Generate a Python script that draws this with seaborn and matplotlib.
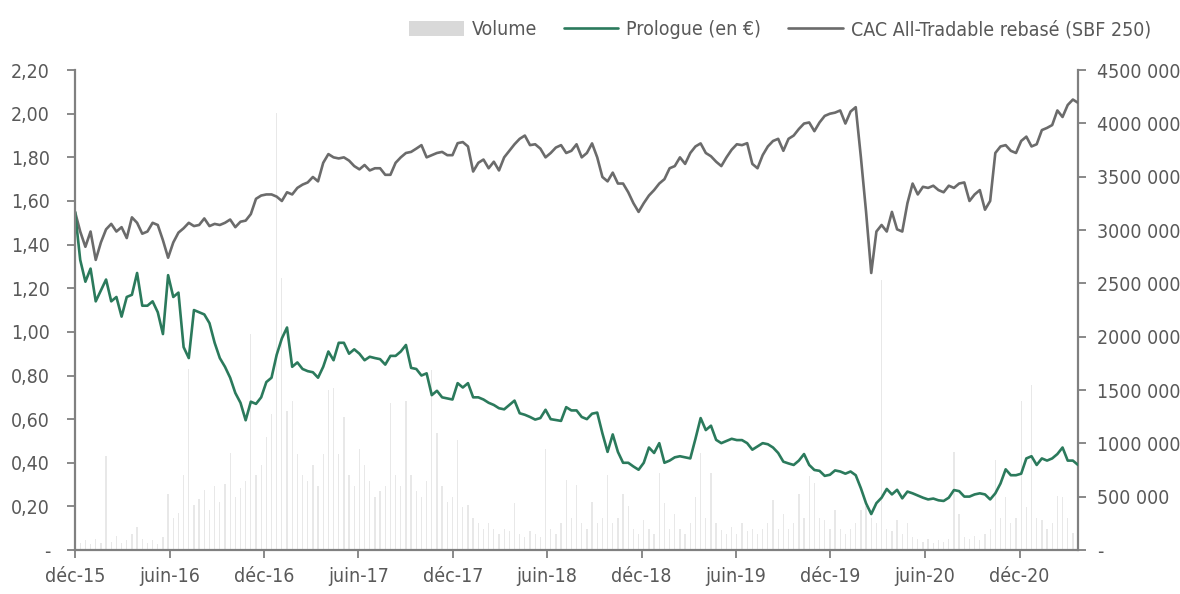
import pandas as pd
import matplotlib
matplotlib.use("Agg")
import matplotlib.pyplot as plt
import matplotlib.ticker as mticker
from matplotlib.patches import Patch
from matplotlib.lines import Line2D
import seaborn as sns

# Données (un point tous les 10 jours depuis le 01/12/2015)
START = "2015-12-01"
STEP = "10D"

prologue = [
    1.55, 1.33, 1.23, 1.29, 1.14, 1.19, 1.24, 1.14, 1.16, 1.07,
    1.16, 1.17, 1.27, 1.12, 1.12, 1.14, 1.09, 0.99, 1.26, 1.16,
    1.18, 0.93, 0.88, 1.10, 1.09, 1.08, 1.04, 0.95, 0.88, 0.84,
    0.79, 0.72, 0.675, 0.595, 0.68, 0.67, 0.70, 0.77, 0.79, 0.895,
    0.97, 1.02, 0.84, 0.86, 0.83, 0.82, 0.815, 0.79, 0.84, 0.91,
    0.87, 0.95, 0.95, 0.90, 0.92, 0.90, 0.87, 0.886, 0.88, 0.875,
    0.85, 0.89, 0.89, 0.91, 0.94, 0.835, 0.83, 0.80, 0.81, 0.71,
    0.73, 0.70, 0.695, 0.69, 0.765, 0.745, 0.765, 0.70, 0.70, 0.69,
    0.675, 0.665, 0.65, 0.645, 0.665, 0.685, 0.627, 0.62, 0.61, 0.598,
    0.605, 0.643, 0.60, 0.596, 0.592, 0.655, 0.64, 0.64, 0.61, 0.60,
    0.625, 0.63, 0.535, 0.45, 0.53, 0.45, 0.40, 0.40, 0.383, 0.368,
    0.40, 0.47, 0.445, 0.49, 0.40, 0.41, 0.425, 0.43, 0.425, 0.42,
    0.51, 0.605, 0.55, 0.57, 0.505, 0.49, 0.50, 0.51, 0.504, 0.504,
    0.49, 0.46, 0.475, 0.49, 0.485, 0.47, 0.445, 0.405, 0.397, 0.39,
    0.41, 0.44, 0.39, 0.367, 0.363, 0.34, 0.345, 0.365, 0.36, 0.35,
    0.36, 0.343, 0.283, 0.214, 0.165, 0.215, 0.24, 0.28, 0.255, 0.276,
    0.237, 0.268, 0.26, 0.25, 0.24, 0.232, 0.236, 0.228, 0.225, 0.24,
    0.275, 0.27, 0.245, 0.245, 0.255, 0.26, 0.255, 0.232, 0.26, 0.305,
    0.37, 0.343, 0.343, 0.35, 0.42, 0.43, 0.39, 0.42, 0.41, 0.42,
    0.44, 0.47, 0.41, 0.41, 0.39,
]

cac_rebase = [
    1.55, 1.46, 1.39, 1.46, 1.33, 1.41, 1.47, 1.495, 1.46, 1.48,
    1.43, 1.525, 1.50, 1.45, 1.46, 1.50, 1.49, 1.42, 1.34, 1.41,
    1.455, 1.475, 1.50, 1.485, 1.49, 1.52, 1.485, 1.495, 1.49, 1.50,
    1.515, 1.48, 1.505, 1.51, 1.54, 1.61, 1.625, 1.63, 1.63, 1.62,
    1.60, 1.64, 1.63, 1.66, 1.675, 1.685, 1.71, 1.69, 1.775, 1.815,
    1.80, 1.795, 1.80, 1.785, 1.76, 1.745, 1.765, 1.74, 1.75, 1.75,
    1.72, 1.72, 1.775, 1.80, 1.82, 1.825, 1.84, 1.856, 1.80, 1.81,
    1.82, 1.825, 1.81, 1.81, 1.865, 1.87, 1.85, 1.735, 1.775, 1.79,
    1.75, 1.78, 1.74, 1.80, 1.83, 1.86, 1.885, 1.90, 1.856, 1.86,
    1.84, 1.80, 1.82, 1.845, 1.856, 1.82, 1.83, 1.86, 1.80, 1.82,
    1.864, 1.80, 1.71, 1.69, 1.73, 1.68, 1.68, 1.64, 1.59, 1.55,
    1.59, 1.625, 1.65, 1.68, 1.70, 1.75, 1.76, 1.80, 1.77, 1.82,
    1.85, 1.864, 1.82, 1.805, 1.78, 1.76, 1.80, 1.835, 1.86, 1.856,
    1.865, 1.77, 1.75, 1.81, 1.85, 1.875, 1.885, 1.83, 1.885, 1.90,
    1.93, 1.955, 1.96, 1.92, 1.96, 1.99, 2.00, 2.005, 2.015, 1.955,
    2.01, 2.03, 1.80, 1.55, 1.27, 1.46, 1.49, 1.46, 1.55, 1.47,
    1.46, 1.59, 1.68, 1.63, 1.665, 1.66, 1.67, 1.65, 1.64, 1.67,
    1.66, 1.68, 1.685, 1.60, 1.63, 1.65, 1.56, 1.60, 1.82, 1.85,
    1.856, 1.83, 1.82, 1.875, 1.895, 1.85, 1.86, 1.925, 1.935, 1.948,
    2.015, 1.985, 2.04, 2.065, 2.05,
]

# Volume en milliers de titres
volume_k = [
    120, 70, 90, 60, 100, 70, 880, 80, 130, 70,
    90, 150, 220, 100, 70, 90, 60, 120, 530, 300,
    350, 700, 1700, 420, 480, 560, 380, 600, 450, 620,
    910, 500, 580, 650, 2030, 700, 800, 1060, 1280, 4100,
    2550, 1300, 1400, 900, 700, 650, 800, 600, 900, 1500,
    1520, 900, 1250, 700, 600, 950, 800, 650, 500, 550,
    600, 1380, 700, 600, 1400, 700, 550, 500, 650, 1690,
    1100, 600, 450, 500, 1030, 400, 420, 300, 250, 200,
    250, 200, 150, 200, 180, 440, 150, 120, 180, 150,
    120, 950, 200, 150, 250, 660, 300, 610, 250, 200,
    450, 250, 300, 700, 250, 300, 530, 410, 200, 150,
    280, 200, 150, 720, 440, 200, 340, 200, 150, 250,
    500, 910, 300, 720, 250, 190, 150, 220, 150, 250,
    180, 200, 150, 200, 250, 470, 200, 340, 200, 250,
    530, 300, 690, 625, 300, 280, 200, 375, 200, 150,
    200, 250, 375, 410, 300, 250, 2530, 200, 180, 280,
    150, 250, 120, 100, 80, 100, 70, 90, 80, 100,
    920, 340, 120, 100, 130, 90, 150, 200, 840, 300,
    500, 250, 300, 1400, 400, 1550, 300, 280, 200, 250,
    510, 500, 300, 160, 120,
]

MOIS = {6: "juin", 12: "déc"}
LEFT_TICKS = [0, 0.2, 0.4, 0.6, 0.8, 1.0, 1.2, 1.4, 1.6, 1.8, 2.0, 2.2]
RIGHT_TICKS = [0, 500000, 1000000, 1500000, 2000000, 2500000,
               3000000, 3500000, 4000000, 4500000]

GREEN = "#2b7a5c"
GREY_LINE = "#6b6b6b"
AXIS_GREY = "#808080"
TEXT_GREY = "#595959"
FS = 14


def fmt_volume(v, pos):
    if v == 0:
        return "-"
    v = int(v)
    return f"{v // 1000} 000"


def fmt_prix(v, pos):
    if abs(v) < 1e-9:
        return "-"
    return f"{v:.2f}".replace(".", ",")


dates = pd.date_range(START, periods=len(prologue), freq=STEP)
df = pd.DataFrame({
    "date": dates,
    "prologue": prologue,
    "cac": cac_rebase,
    "volume": [v * 1000 for v in volume_k],
})

sns.set_theme(style="white")
plt.rcParams["font.family"] = ["DejaVu Sans", "Liberation Sans"]
plt.rcParams["font.stretch"] = "condensed"

fig = plt.figure(figsize=(11.8, 5.94), dpi=100)
ax = fig.add_axes([0.0636, 0.074, 0.85, 0.808])
ax2 = ax.twinx()

# volume (axe de droite), derrière les courbes
ax2.bar(df["date"], df["volume"], width=2.5, color="#dcdcdc", alpha=0.65, linewidth=0)
ax2.set_ylim(0, 4500000)
ax2.set_yticks(RIGHT_TICKS)
ax2.yaxis.set_major_formatter(mticker.FuncFormatter(fmt_volume))

ax.set_zorder(ax2.get_zorder() + 1)
ax.patch.set_visible(False)

sns.lineplot(data=df, x="date", y="cac", ax=ax, color=GREY_LINE, linewidth=1.9)
sns.lineplot(data=df, x="date", y="prologue", ax=ax, color=GREEN, linewidth=1.9)

ax.set_ylim(0, 2.2)
ax.set_yticks(LEFT_TICKS)
ax.yaxis.set_major_formatter(mticker.FuncFormatter(fmt_prix))
ax.set_xlim(dates[0], dates[-1])
xticks = pd.date_range("2015-12-01", "2020-12-01", freq="6MS")
ax.set_xticks(xticks)
ax.set_xticklabels([f"{MOIS[d.month]}-{d.year % 100:02d}" for d in xticks])
ax.set_xlabel("")
ax.set_ylabel("")

for a in (ax, ax2):
    for s in a.spines.values():
        s.set_visible(False)
    a.grid(False)
ax.spines["left"].set_visible(True)
ax.spines["bottom"].set_visible(True)
ax2.spines["right"].set_visible(True)
for s in (ax.spines["left"], ax.spines["bottom"], ax2.spines["right"]):
    s.set_color(AXIS_GREY)
    s.set_linewidth(1.6)

ax.tick_params(axis="y", left=True, length=6, width=1.3, color=AXIS_GREY,
               labelsize=FS, labelcolor=TEXT_GREY, pad=12)
ax.tick_params(axis="x", bottom=True, length=6, width=1.3, color=AXIS_GREY,
               labelsize=FS, labelcolor=TEXT_GREY, pad=6)
ax2.tick_params(axis="y", right=True, length=6, width=1.3, color=AXIS_GREY,
                labelsize=FS, labelcolor=TEXT_GREY, pad=8)

handles = [
    Patch(facecolor="#d9d9d9", edgecolor="none"),
    Line2D([], [], color=GREEN, linewidth=1.9),
    Line2D([], [], color=GREY_LINE, linewidth=1.9),
]
labels = ["Volume", "Prologue (en €)", "CAC All-Tradable rebasé (SBF 250)"]
fig.legend(handles, labels, loc="upper right", bbox_to_anchor=(0.99, 0.995), ncol=3,
           frameon=False, fontsize=FS, labelcolor=TEXT_GREY, handlelength=2.8,
           handleheight=0.8, columnspacing=1.4, handletextpad=0.4)

fig.savefig("out.png", dpi=100)
